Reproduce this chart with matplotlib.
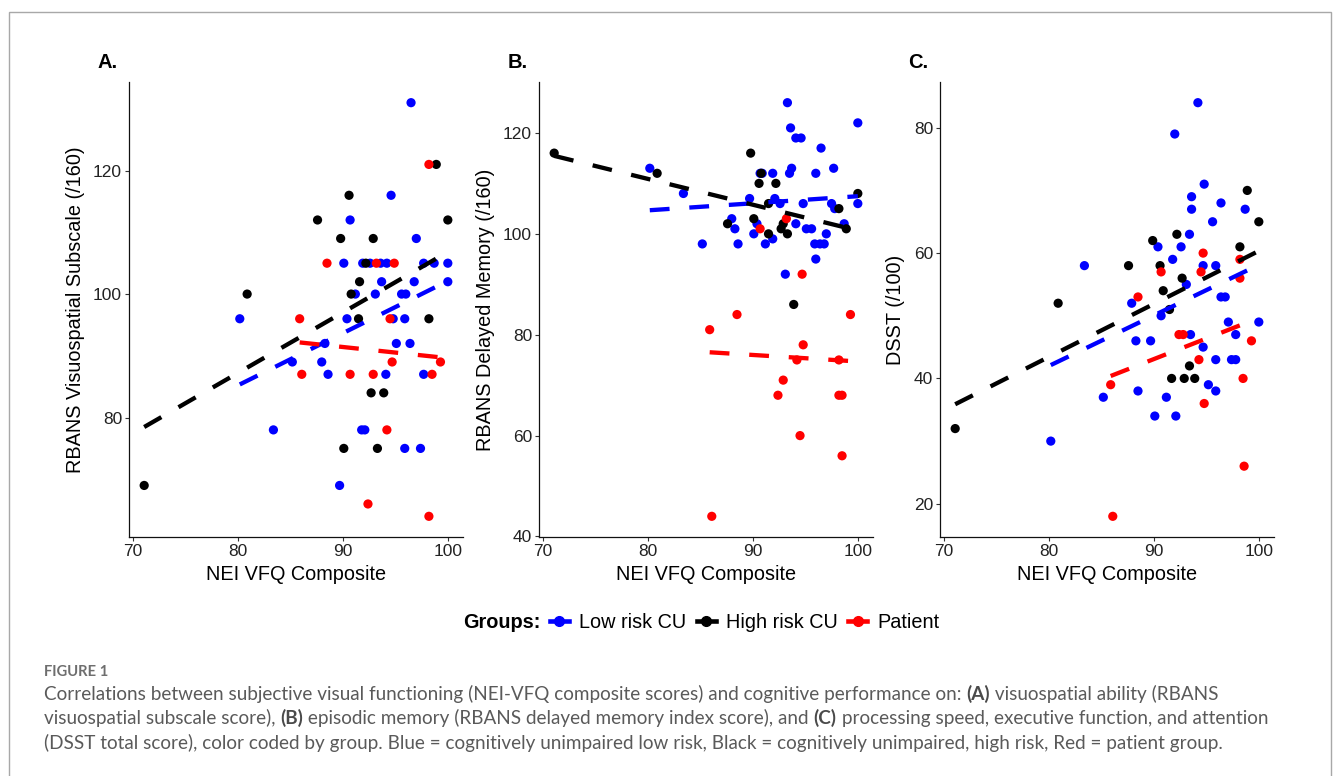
import matplotlib
matplotlib.use("Agg")
import matplotlib.pyplot as plt
import numpy as np
from matplotlib.lines import Line2D
from matplotlib.patches import Rectangle

# ---------------- data ----------------
groups = ["Low risk CU", "High risk CU", "Patient"]
group_colors = ["#0000FF", "#000000", "#FF0000"]

# Panel A: RBANS Visuospatial
a_low_x = [80.2, 83.4, 85.2, 88.0, 88.3, 88.6, 89.7, 90.1, 90.4, 90.7, 91.2, 91.8, 91.9, 92.1, 92.6,
           93.1, 93.6, 93.7, 94.1, 94.2, 94.6, 94.8, 95.1, 95.6, 95.9, 95.9, 96.0, 96.4, 96.5, 96.8,
           97.0, 97.4, 97.7, 97.7, 98.7, 100.0, 100.0]
a_low_y = [96, 78, 89, 89, 92, 87, 69, 105, 96, 112, 100, 78, 105, 78, 105,
           100, 105, 102, 87, 105, 116, 96, 92, 100, 96, 75, 100, 92, 131, 102,
           109, 75, 105, 87, 105, 105, 102]
a_high_x = [71.1, 80.9, 87.6, 89.8, 90.1, 90.6, 90.8, 91.5, 91.6, 92.2, 92.7, 92.9, 93.3, 93.9, 98.2, 98.9, 100.0]
a_high_y = [69, 100, 112, 109, 75, 116, 100, 96, 102, 105, 84, 109, 75, 84, 96, 121, 112]
a_pat_x = [85.9, 86.1, 88.5, 90.7, 92.4, 92.9, 93.2, 94.2, 94.5, 94.7, 94.9, 98.2, 98.2, 98.5, 99.3]
a_pat_y = [96, 87, 105, 87, 66, 87, 105, 78, 96, 89, 105, 121, 64, 87, 89]

# Panel B: RBANS Delayed Memory
b_low_x = [80.2, 83.4, 85.2, 88.0, 88.3, 88.6, 89.7, 90.1, 90.4, 90.7, 90.9, 91.2, 91.9, 91.9, 92.1,
           92.6, 93.1, 93.3, 93.6, 93.7, 93.5, 94.1, 94.6, 94.1, 94.8, 95.1, 95.6, 95.9, 96.0, 96.0,
           96.4, 96.8, 96.5, 97.0, 97.7, 97.5, 97.8, 98.7, 100.0, 100.0]
b_low_y = [113, 108, 98, 103, 101, 98, 107, 100, 102, 112, 112, 98, 99, 112, 107,
           106, 92, 126, 121, 113, 112, 119, 119, 102, 106, 101, 101, 98, 112, 95,
           98, 98, 117, 100, 113, 106, 105, 102, 122, 106]
b_high_x = [71.1, 80.9, 87.6, 89.8, 90.1, 90.6, 90.8, 91.5, 91.5, 92.2, 92.7, 92.9, 93.3, 93.9, 98.2, 98.9, 100.0]
b_high_y = [116, 112, 102, 116, 103, 110, 112, 106, 100, 110, 101, 102, 100, 86, 105, 101, 108]
b_pat_x = [85.9, 86.1, 88.5, 90.7, 92.9, 92.4, 93.2, 94.7, 94.8, 94.2, 94.5, 98.2, 98.2, 98.5, 98.5, 99.3]
b_pat_y = [81, 44, 84, 101, 71, 68, 103, 92, 78, 75, 60, 75, 68, 68, 56, 84]

# Panel C: DSST
c_low_x = [80.2, 83.4, 85.2, 87.9, 88.3, 88.5, 89.7, 90.1, 90.4, 90.7, 91.2, 91.8, 92.0, 92.1, 92.6,
           93.1, 93.4, 93.6, 93.6, 93.5, 94.2, 94.7, 94.8, 94.7, 95.2, 95.6, 95.9, 95.9, 95.9, 96.4,
           96.4, 96.8, 97.1, 97.4, 97.8, 97.8, 98.7, 100.0]
c_low_y = [30, 58, 37, 52, 46, 38, 46, 34, 61, 50, 37, 59, 79, 34, 61,
           55, 63, 69, 67, 47, 84, 58, 71, 45, 39, 65, 58, 43, 38, 68,
           53, 53, 49, 43, 43, 47, 67, 49]
c_high_x = [71.1, 80.9, 87.6, 89.9, 90.6, 90.9, 91.5, 91.7, 92.2, 92.7, 92.9, 93.4, 93.9, 98.2, 98.9, 100.0]
c_high_y = [32, 52, 58, 62, 58, 54, 51, 40, 63, 56, 40, 42, 40, 61, 70, 65]
c_pat_x = [85.9, 86.1, 88.5, 90.7, 92.4, 92.8, 94.3, 94.5, 94.7, 94.8, 98.2, 98.2, 98.5, 98.6, 99.3]
c_pat_y = [39, 18, 53, 57, 47, 47, 43, 57, 60, 36, 59, 56, 40, 26, 46]

panel_letters = ["A.", "B.", "C."]
y_titles = ["RBANS Visuospatial Subscale (/160)", "RBANS Delayed Memory (/160)", "DSST (/100)"]
x_title = "NEI VFQ Composite"
x_ticks = [70, 80, 90, 100]
y_ticks = [[80, 100, 120], [40, 60, 80, 100, 120], [20, 40, 60, 80]]

panel_data = [
    [(a_low_x, a_low_y), (a_high_x, a_high_y), (a_pat_x, a_pat_y)],
    [(b_low_x, b_low_y), (b_high_x, b_high_y), (b_pat_x, b_pat_y)],
    [(c_low_x, c_low_y), (c_high_x, c_high_y), (c_pat_x, c_pat_y)],
]

caption_head = "FIGURE 1"
caption_lines = [
    [("Correlations between subjective visual functioning (NEI-VFQ composite scores) and cognitive performance on: ", False),
     ("(A)", True), (" visuospatial ability (RBANS", False)],
    [("visuospatial subscale score), ", False), ("(B)", True),
     (" episodic memory (RBANS delayed memory index score), and ", False), ("(C)", True),
     (" processing speed, executive function, and attention", False)],
    [("(DSST total score), color coded by group. Blue = cognitively unimpaired low risk, Black = cognitively unimpaired, high risk, Red = patient group.", False)],
]

# ---------------- figure ----------------
W, H = 1333, 776
fig = plt.figure(figsize=(W / 100, H / 100), dpi=100)
PF = "Liberation Sans"
CF = "Lato"


def px_axes(l, t, r, b):
    return fig.add_axes([l / W, 1 - b / H, (r - l) / W, (b - t) / H])


def fx(x):
    return x / W


def fy(y):
    return 1 - y / H


# outer frame
fig.patches.append(Rectangle((fx(9), -0.02), fx(1331) - fx(9), fy(12) + 0.02, fill=False,
                             edgecolor="#a8a8a8", lw=1.0, transform=fig.transFigure, zorder=0))

panel_lefts = [129, 539, 940]
label_x = [97, 508, 908]
for i in range(3):
    l = panel_lefts[i]
    ax = px_axes(l, 82, l + 334, 537)
    allx = np.concatenate([np.asarray(d[0], float) for d in panel_data[i]])
    ally = np.concatenate([np.asarray(d[1], float) for d in panel_data[i]])
    xr = allx.max() - allx.min()
    yr = ally.max() - ally.min()
    for (xs, ys), c in zip(panel_data[i], group_colors):
        ax.scatter(xs, ys, s=44, color=c, edgecolors="none", zorder=2)
    for (xs, ys), c in zip(panel_data[i], group_colors):
        xs = np.asarray(xs, float)
        ys = np.asarray(ys, float)
        k, b0 = np.polyfit(xs, ys, 1)
        xx = np.array([xs.min(), xs.max()])
        ax.plot(xx, k * xx + b0, color=c, lw=3.1, dashes=(4.6, 4.6), zorder=3,
                solid_capstyle="butt", dash_capstyle="butt")
    ax.set_xlim(allx.min() - 0.05 * xr, allx.max() + 0.05 * xr)
    ax.set_ylim(ally.min() - 0.05 * yr, ally.max() + 0.05 * yr)
    ax.set_xticks(x_ticks)
    ax.set_yticks(y_ticks[i])
    for s in ["top", "right"]:
        ax.spines[s].set_visible(False)
    for s in ["left", "bottom"]:
        ax.spines[s].set_linewidth(0.9)
        ax.spines[s].set_color("#111111")
    ax.tick_params(length=3, width=0.8, color="#333333", pad=2, labelsize=12.5,
                   labelcolor="#222222")
    for lab in ax.get_xticklabels() + ax.get_yticklabels():
        lab.set_family(PF)
    ax.set_xlabel(x_title, fontsize=14.3, family=PF, labelpad=4)
    ax.set_ylabel(y_titles[i], fontsize=14.3, family=PF, labelpad=6)
    fig.text(fx(label_x[i]), fy(63), panel_letters[i], fontsize=14.5, weight="bold",
             family=PF, ha="left", va="center")

# legend
fig.text(fx(463), fy(622), "Groups:", fontsize=14.3, weight="bold", family=PF,
         ha="left", va="center")
handles = [Line2D([0], [0], color=c, lw=3.3, marker="o", markersize=7) for c in group_colors]
fig.legend(handles, groups, loc="center left", bbox_to_anchor=(fx(550), fy(622)), ncol=3,
           frameon=False, prop={"family": PF, "size": 14.3}, handlelength=0.95,
           handletextpad=0.5, columnspacing=0.55, borderpad=0, borderaxespad=0)

# caption
renderer = fig.canvas.get_renderer()
cap_color = "#5a5a5a"


def draw_runs(runs, x0, ybase, fs, draw=True):
    x = x0
    texts = []
    for s, bold in runs:
        t = fig.text(fx(x), fy(ybase), s, fontsize=fs, family=CF,
                     weight="bold" if bold else "normal",
                     color="#4a4a4a" if bold else cap_color, ha="left", va="baseline")
        bb = t.get_window_extent(renderer=renderer)
        x += bb.width
        texts.append(t)
    if not draw:
        for t in texts:
            t.remove()
    return x - x0


w12 = draw_runs(caption_lines[0], 44, 700, 12, draw=False)
cap_fs = 12 * (1216 - 44) / w12

fig.text(fx(44), fy(676), caption_head, fontsize=10.6, weight="bold", family=CF,
         color="#6e6e6e", ha="left", va="baseline")
for j, runs in enumerate(caption_lines):
    draw_runs(runs, 44, 700 + 24.3 * j, cap_fs)

fig.savefig("out.png", dpi=100)
